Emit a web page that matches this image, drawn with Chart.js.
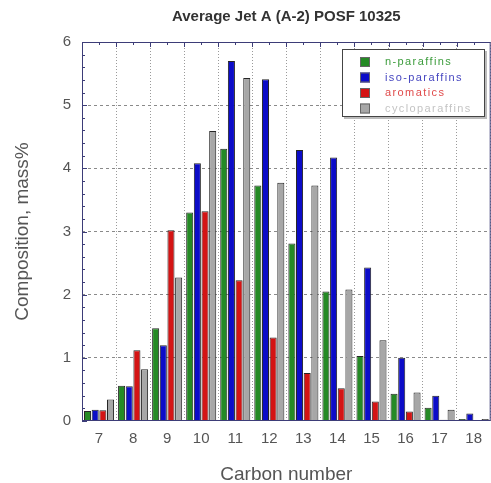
<!DOCTYPE html>
<html>
<head>
<meta charset="utf-8">
<script src="https://cdn.jsdelivr.net/npm/chart.js@4.4.1/dist/chart.umd.min.js"></script>
<style>
  html, body { margin: 0; padding: 0; background: #ffffff; }
  #wrap { width: 491px; height: 483px; }
</style>
</head>
<body>
<div id="wrap"><canvas id="c" width="491" height="483"></canvas></div>
<script>
const chartTitle = 'Average Jet A (A-2) POSF 10325';
const carbonNumbers = ['7', '8', '9', '10', '11', '12', '13', '14', '15', '16', '17', '18'];
const nParaffins     = [0.16, 0.56, 1.47, 3.30, 4.31, 3.73, 2.81, 2.05, 1.03, 0.43, 0.21, 0.03];
const isoParaffins   = [0.18, 0.55, 1.20, 4.08, 5.70, 5.41, 4.29, 4.17, 2.43, 1.00, 0.40, 0.12];
const aromatics      = [0.17, 1.12, 3.02, 3.32, 2.23, 1.32, 0.76, 0.52, 0.31, 0.15, 0.02, 0.00];
const cycloParaffins = [0.34, 0.82, 2.27, 4.59, 5.43, 3.77, 3.73, 2.08, 1.28, 0.45, 0.18, 0.03];
const seriesNames = ['n-paraffins', 'iso-paraffins', 'aromatics', 'cycloparaffins'];
const yTickValues = [0, 1, 2, 3, 4, 5, 6];

const barColors = ['#258a25', '#0c0cc8', '#d41414', '#a7a7a7'];
const legendTextColors = ['#3c9c3c', '#4646c0', '#e04a4a', '#c4c4c4'];
const frameColor = '#3d3d78';

const isInt = v => Math.abs(v - Math.round(v)) < 1e-6;

const framePlugin = {
  id: 'frameAndLegend',
  afterDraw(chart) {
    const ctx = chart.ctx;
    const a = chart.chartArea;
    const x = chart.scales.x, y = chart.scales.y;
    ctx.save();
    // title centered over plot area
    ctx.fillStyle = '#333333';
    ctx.font = 'bold 15px "Liberation Sans", Arial, sans-serif';
    ctx.textAlign = 'center';
    ctx.textBaseline = 'middle';
    ctx.fillText(chartTitle, (a.left + a.right) / 2, 17);

    // frame
    ctx.strokeStyle = frameColor;
    ctx.lineWidth = 1;
    ctx.strokeRect(a.left + 0.5, a.top + 0.5, a.right - a.left - 1, a.bottom - a.top - 1);

    // inward y ticks (minor every 0.2)
    ctx.beginPath();
    for (let i = 0; i <= 30; i++) {
      const v = i * 0.2;
      const py = Math.round(y.getPixelForValue(v)) + 0.5;
      const len = (i % 5 === 0) ? 5 : 3;
      ctx.moveTo(a.left, py); ctx.lineTo(a.left + len, py);
    }
    // top ticks at category centers and boundaries
    const n = carbonNumbers.length;
    const half = (x.getPixelForValue(1) - x.getPixelForValue(0)) / 2;
    for (let i = 0; i < n; i++) {
      const cx = Math.round(x.getPixelForValue(i)) + 0.5;
      ctx.moveTo(cx, a.top); ctx.lineTo(cx, a.top + 3);
      const bx = Math.round(x.getPixelForValue(i) + half) + 0.5;
      ctx.moveTo(bx, a.top); ctx.lineTo(bx, a.top + 5);
    }
    ctx.stroke();

    // legend box
    const lx = 342, ly = 49, lw = 143, lh = 68;
    ctx.fillStyle = '#bbbbbb';
    ctx.fillRect(lx + 2, ly + 2, lw, lh);
    ctx.fillStyle = '#ffffff';
    ctx.fillRect(lx, ly, lw, lh);
    ctx.strokeStyle = '#444444';
    ctx.strokeRect(lx + 0.5, ly + 0.5, lw - 1, lh - 1);
    ctx.font = '11px "Liberation Sans", Arial, sans-serif';
    ctx.textAlign = 'left';
    ctx.textBaseline = 'middle';
    try { ctx.letterSpacing = '1.4px'; } catch (e) {}
    chart.data.datasets.forEach((ds, i) => {
      const cy = 62 + i * 15.5;
      ctx.fillStyle = ds.backgroundColor;
      ctx.fillRect(360, cy - 5, 10, 10);
      ctx.strokeStyle = '#666';
      ctx.strokeRect(360.5, cy - 4.5, 9, 9);
      ctx.fillStyle = legendTextColors[i];
      ctx.fillText(ds.label, 385, cy);
    });
    ctx.restore();
  }
};

const seriesData = [nParaffins, isoParaffins, aromatics, cycloParaffins];

new Chart(document.getElementById('c'), {
  type: 'bar',
  data: {
    labels: carbonNumbers,
    datasets: seriesData.map((d, i) => ({
      label: seriesNames[i],
      data: d,
      backgroundColor: barColors[i],
      borderColor: '#262626',
      borderWidth: 1,
      borderSkipped: 'bottom',
      categoryPercentage: 0.9,
      barPercentage: 0.92
    }))
  },
  options: {
    responsive: false,
    animation: false,
    devicePixelRatio: 1,
    layout: { padding: { top: 42, right: 0, left: 0, bottom: 0 } },
    plugins: {
      legend: { display: false },
      title: { display: false },
      tooltip: { enabled: false }
    },
    scales: {
      x: {
        offset: true,
        grid: {
          offset: true,
          drawTicks: false,
          color: '#9a9a9a',
          lineWidth: 1
        },
        border: { display: false, dash: [1, 2] },
        ticks: {
          padding: 9,
          color: '#555555',
          font: { family: '"Liberation Sans", Arial, sans-serif', size: 15 }
        },
        title: {
          display: true,
          text: 'Carbon number',
          color: '#555555',
          font: { family: '"Liberation Sans", Arial, sans-serif', size: 19, lineHeight: 1.0 },
          padding: { top: 0, bottom: -1 }
        },
        afterFit(scale) { scale.height = 62; }
      },
      y: {
        min: 0,
        max: 6,
        ticks: {
          stepSize: 0.2,
          autoSkip: false,
          padding: 11,
          color: '#555555',
          font: { family: '"Liberation Sans", Arial, sans-serif', size: 15 },
          callback: (v) => {
            if (!isInt(v)) return '';
            const r = Math.round(v);
            return yTickValues.includes(r) ? String(r) : '';
          }
        },
        grid: {
          drawTicks: false,
          color: (c) => {
            const v = c.tick ? c.tick.value : 0;
            return (isInt(v) && Math.round(v) > 0 && Math.round(v) < 6) ? '#8a8a8a' : 'rgba(0,0,0,0)';
          }
        },
        border: { display: false, dash: [3, 3] },
        title: {
          display: true,
          text: 'Composition, mass%',
          color: '#555555',
          font: { family: '"Liberation Sans", Arial, sans-serif', size: 19, lineHeight: 1.2 },
          padding: { top: 11, bottom: 0 }
        },
        afterFit(scale) { scale.width = 82; }
      }
    }
  },
  plugins: [framePlugin]
});
</script>
</body>
</html>
